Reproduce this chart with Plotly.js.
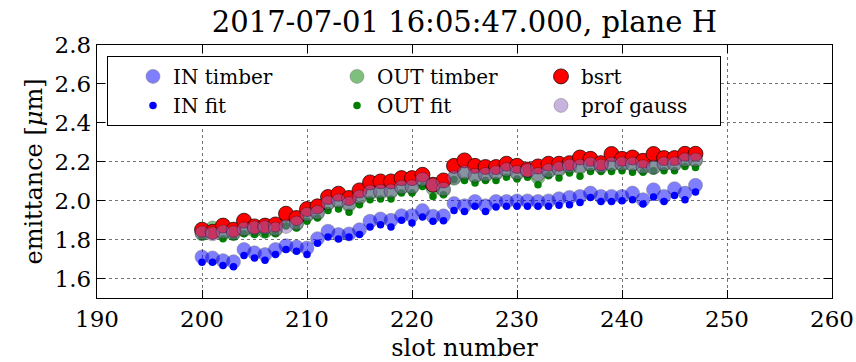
<!DOCTYPE html>
<html>
<head>
<meta charset="utf-8">
<script src="https://cdn.plot.ly/plotly-3.0.1.min.js"></script>
<style>
  html, body { margin: 0; padding: 0; background: #ffffff; }
  #chart { width: 856px; height: 362px; }
</style>
</head>
<body>
<div id="chart"></div>
<script>
// Bunch slot numbers
const slots = [];
for (let s = 200; s <= 247; s++) slots.push(s);

// Emittance per slot [um]
const inTimber = [1.711, 1.706, 1.692, 1.686, 1.749, 1.732, 1.723, 1.749, 1.769, 1.762,
  1.757, 1.805, 1.843, 1.826, 1.829, 1.851, 1.894, 1.906, 1.899, 1.923,
  1.923, 1.949, 1.920, 1.922, 1.985, 1.974, 1.996, 1.974, 1.996, 1.996,
  1.999, 1.999, 1.996, 1.999, 2.010, 2.017, 2.022, 2.039, 2.022, 2.022,
  2.022, 2.039, 2.005, 2.056, 2.022, 2.062, 2.039, 2.079];

const inFit = [1.684, 1.684, 1.667, 1.660, 1.718, 1.706, 1.694, 1.723, 1.749, 1.740,
  1.723, 1.781, 1.814, 1.803, 1.814, 1.826, 1.865, 1.877, 1.865, 1.899,
  1.886, 1.916, 1.894, 1.897, 1.950, 1.945, 1.971, 1.945, 1.968, 1.971,
  1.971, 1.971, 1.971, 1.971, 1.976, 1.979, 1.991, 2.017, 1.996, 1.996,
  2.000, 2.005, 1.983, 2.019, 1.996, 2.027, 2.005, 2.045];

const outTimber = [1.830, 1.860, 1.830, 1.830, 1.850, 1.848, 1.843, 1.850, 1.895, 1.880,
  1.925, 1.935, 1.985, 1.995, 1.978, 2.015, 2.038, 2.042, 2.046, 2.068,
  2.068, 2.100, 2.062, 2.055, 2.115, 2.140, 2.125, 2.130, 2.140, 2.157,
  2.140, 2.150, 2.120, 2.150, 2.160, 2.172, 2.172, 2.183, 2.175, 2.183,
  2.186, 2.185, 2.170, 2.170, 2.186, 2.186, 2.205, 2.205];

const outFit = [1.815, 1.835, 1.804, 1.815, 1.830, 1.826, 1.826, 1.830, 1.870, 1.860,
  1.894, 1.911, 1.950, 1.957, 1.940, 1.979, 2.005, 2.009, 2.009, 2.039,
  2.039, 2.073, 2.022, 2.031, 2.109, 2.104, 2.091, 2.104, 2.104, 2.121,
  2.111, 2.121, 2.082, 2.128, 2.116, 2.142, 2.125, 2.150, 2.150, 2.150,
  2.154, 2.146, 2.146, 2.154, 2.154, 2.154, 2.176, 2.171];

const bsrt = [1.851, 1.840, 1.872, 1.851, 1.897, 1.868, 1.872, 1.878, 1.933, 1.911,
  1.957, 1.971, 2.019, 2.036, 2.014, 2.053, 2.094, 2.099, 2.099, 2.116,
  2.116, 2.133, 2.082, 2.104, 2.179, 2.207, 2.179, 2.173, 2.173, 2.190,
  2.179, 2.160, 2.176, 2.190, 2.190, 2.193, 2.222, 2.215, 2.193, 2.240,
  2.215, 2.222, 2.205, 2.240, 2.219, 2.219, 2.241, 2.241];

const profGauss = [1.835, 1.830, 1.840, 1.835, 1.855, 1.860, 1.862, 1.855, 1.868, 1.885,
  1.930, 1.940, 1.990, 2.000, 1.985, 2.020, 2.045, 2.048, 2.050, 2.070,
  2.072, 2.110, 2.080, 2.060, 2.120, 2.145, 2.130, 2.135, 2.145, 2.160,
  2.145, 2.155, 2.135, 2.155, 2.165, 2.178, 2.178, 2.188, 2.178, 2.188,
  2.190, 2.188, 2.175, 2.172, 2.190, 2.190, 2.210, 2.210];

// Axis ticks
const xTicks = [190, 200, 210, 220, 230, 240, 250, 260];
const yTicks = [1.6, 1.8, 2.0, 2.2, 2.4, 2.6, 2.8];

const FONT = '"DejaVu Serif", "Liberation Serif", serif';

function series(name, y, opts) {
  return {
    type: 'scatter', mode: 'markers', name: name,
    x: slots, y: y,
    legendrank: opts.rank,
    marker: {
      symbol: 'circle', size: opts.size, color: opts.color,
      opacity: opts.opacity,
      line: { color: '#000000', width: opts.edge }
    },
    hoverinfo: 'x+y+name'
  };
}

const traces = [
  series('IN timber',  inTimber,  { rank: 1, size: 14, color: 'rgb(0,0,255)',     opacity: 0.5, edge: 0.5 }),
  series('IN fit',     inFit,     { rank: 4, size: 7.5, color: 'rgb(0,0,255)',    opacity: 1.0, edge: 0 }),
  series('OUT timber', outTimber, { rank: 2, size: 14, color: 'rgb(0,128,0)',     opacity: 0.5, edge: 0.5 }),
  series('OUT fit',    outFit,    { rank: 5, size: 7.5, color: 'rgb(0,128,0)',    opacity: 1.0, edge: 0 }),
  series('bsrt',       bsrt,      { rank: 3, size: 15, color: 'rgb(255,0,0)',     opacity: 1.0, edge: 0.7 }),
  series('prof gauss', profGauss, { rank: 6, size: 14, color: 'rgb(145,105,190)', opacity: 0.5, edge: 0.5 })
];

const axisCommon = {
  showline: true, linecolor: '#000000', linewidth: 1.3, mirror: 'allticks',
  ticks: 'inside', ticklen: 8, tickwidth: 1, tickcolor: '#000000',
  showgrid: true, gridcolor: 'rgba(0,0,0,0.55)', griddash: 'dot', gridwidth: 1,
  zeroline: false,
  tickfont: { family: FONT, size: 23, color: '#000000' }
};

const layout = {
  width: 856, height: 362,
  margin: { l: 97, r: 24, t: 45, b: 64 },
  paper_bgcolor: '#ffffff', plot_bgcolor: '#ffffff',
  font: { family: FONT, color: '#000000' },
  title: {
    text: '2017-07-01 16:05:47.000, plane H',
    font: { family: FONT, size: 29, color: '#000000' },
    x: 0.5425, xanchor: 'center', y: 0.94, yanchor: 'middle'
  },
  xaxis: Object.assign({}, axisCommon, {
    range: [190, 260], tickvals: xTicks,
    title: { text: 'slot number', font: { family: FONT, size: 24, color: '#000000' }, standoff: 11 }
  }),
  yaxis: Object.assign({}, axisCommon, {
    range: [1.5, 2.8], tickvals: yTicks, tickformat: '.1f',
    title: { text: 'emittance [<i>μ</i>m]', font: { family: FONT, size: 24, color: '#000000' }, standoff: 5 }
  }),
  showlegend: true,
  legend: {
    orientation: 'h', x: 0.0136, y: 0.957, xanchor: 'left', yanchor: 'top',
    bgcolor: '#ffffff', bordercolor: '#000000', borderwidth: 1,
    font: { family: FONT, size: 20, color: '#000000' },
    indentation: 25,
    entrywidth: 134, entrywidthmode: 'pixels',
    traceorder: 'normal', itemsizing: 'trace'
  }
};

Plotly.newPlot('chart', traces, layout, { displayModeBar: false, staticPlot: true });
</script>
</body>
</html>
